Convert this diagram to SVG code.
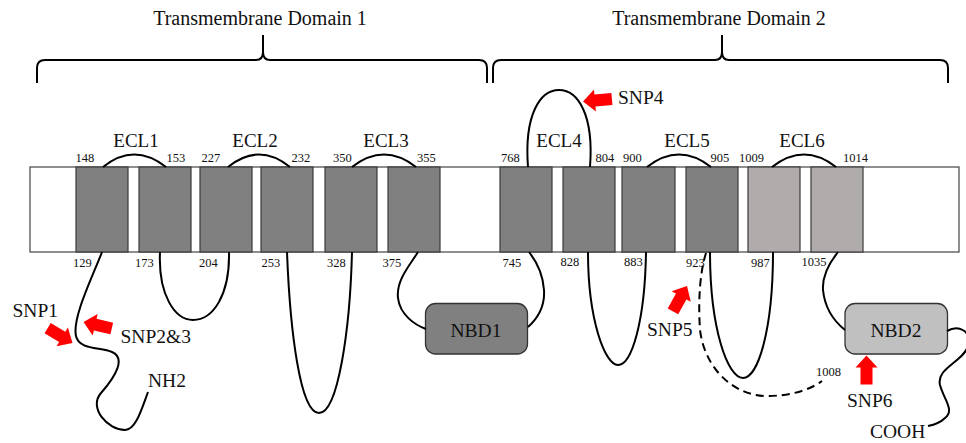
<svg xmlns="http://www.w3.org/2000/svg" width="966" height="443" viewBox="0 0 966 443">
  <style>
    .lbl { font-family: "Liberation Serif", "Times New Roman", serif; fill: #111; }
    .big { font-size: 19.5px; }
    .dom { font-size: 20px; }
    .num { font-size: 12.5px; }
    .ecl { font-size: 19px; text-anchor: middle; }
    .tm { fill: #808080; stroke: #3a3a3a; stroke-width: 1.2; }
    .tm-light { fill: #b0acab; stroke: #3a3a3a; stroke-width: 1.2; }
    .loop { fill: none; stroke: #000; stroke-width: 2; }
    .brace { fill: none; stroke: #000; stroke-width: 2; }
    .snp { fill: #ff0000; }
  </style>
  <defs>
    <!-- block arrow pointing along +x, tip at origin -->
    <path id="snp-arrow" d="M0,0 L-12,-11 L-12,-6 L-29,-6 L-29,6 L-12,6 L-12,11 Z"/>
  </defs>

  <rect width="966" height="443" fill="#fff"/>

  <!-- domain braces -->
  <g id="tmd1">
    <path class="brace" d="M37,83 L37,68 Q37,60 45,60 L256,60 Q263,60 263,52 L263,35 M263,52 Q263,60 270,60 L479,60 Q487,60 487,68 L487,83"/>
    <text class="lbl dom" x="260" y="25" text-anchor="middle">Transmembrane Domain 1</text>
  </g>
  <g id="tmd2">
    <path class="brace" d="M493,83 L493,68 Q493,60 501,60 L715,60 Q722,60 722,52 L722,35 M722,52 Q722,60 729,60 L940,60 Q948,60 948,68 L948,83"/>
    <text class="lbl dom" x="719" y="25" text-anchor="middle">Transmembrane Domain 2</text>
  </g>

  <!-- membrane -->
  <g id="membrane">
    <rect x="30" y="167" width="929" height="85" fill="#fff" stroke="#444" stroke-width="1.2"/>
  </g>

  <!-- transmembrane segments -->
  <g id="tm1"><rect class="tm" x="76" y="167" width="52" height="85"/></g>
  <g id="tm2"><rect class="tm" x="139" y="167" width="52" height="85"/></g>
  <g id="tm3"><rect class="tm" x="200" y="167" width="52" height="85"/></g>
  <g id="tm4"><rect class="tm" x="261" y="167" width="52" height="85"/></g>
  <g id="tm5"><rect class="tm" x="325" y="167" width="52" height="85"/></g>
  <g id="tm6"><rect class="tm" x="388" y="167" width="52" height="85"/></g>
  <g id="tm7"><rect class="tm" x="500" y="167" width="52" height="85"/></g>
  <g id="tm8"><rect class="tm" x="563" y="167" width="52" height="85"/></g>
  <g id="tm9"><rect class="tm" x="622" y="167" width="53" height="85"/></g>
  <g id="tm10"><rect class="tm" x="686" y="167" width="52" height="85"/></g>
  <g id="tm11"><rect class="tm-light" x="748" y="167" width="52" height="85"/></g>
  <g id="tm12"><rect class="tm-light" x="811" y="167" width="52" height="85"/></g>

  <!-- nucleotide binding domains -->
  <g id="nbd1">
    <rect x="425.5" y="303.5" width="102" height="50.5" rx="10" fill="#808080" stroke="#333" stroke-width="1.3"/>
    <text class="lbl big" x="476" y="337" text-anchor="middle">NBD1</text>
  </g>
  <g id="nbd2">
    <rect x="845" y="303.5" width="102.5" height="50.5" rx="10" fill="#c0c0c0" stroke="#333" stroke-width="1.3"/>
    <text class="lbl big" x="896" y="337" text-anchor="middle">NBD2</text>
  </g>

  <!-- connecting loops -->
  <g id="connectors">
    <!-- extracellular loops -->
    <path class="loop" d="M103,167 Q134,142 166,167"/>
    <path class="loop" d="M228,167 Q259,142 290,167"/>
    <path class="loop" d="M352,167 Q384,142 416,167"/>
    <path class="loop" d="M528,167 C524,115 540,90 559,90 C578,90 594,115 590,167"/>
    <path class="loop" d="M647,167 Q679,142 711,167"/>
    <path class="loop" d="M772,167 Q804,142 836,167"/>
    <!-- N-terminal tail -->
    <path class="loop" d="M102,252 C92,278 72,318 76,336 C79,350 100,347 112,352 C126,358 116,376 101,393 C88,408 108,430 125,430 C136,430 142,408 148,392"/>
    <!-- intracellular loops -->
    <path class="loop" d="M160,252 C158,295 175,320 193,320 C213,320 230,295 229,252"/>
    <path class="loop" d="M287,252 C290,330 300,413 319,413 C338,413 350,330 352,252"/>
    <path class="loop" d="M418,252 C410,265 396,280 398,298 C400,315 415,325 426,329"/>
    <path class="loop" d="M528,327 C538,318 545,305 544,290 C543,275 537,262 529,252"/>
    <path class="loop" d="M588,252 C588,320 605,365 618,365 C632,365 645,320 646,252"/>
    <path class="loop" d="M710,252 C710,330 728,378 743,378 C758,378 773,330 773,252"/>
    <path class="loop" stroke-dasharray="8 5" d="M706,253 C700,272 698,300 700,330 C705,370 735,396 767,396 C790,396 810,390 822,381"/>
    <path class="loop" d="M838,252 C830,262 822,275 823,290 C825,310 835,322 845,330"/>
    <!-- C-terminal tail -->
    <path class="loop" d="M947,331 C958,325 972,330 968,346 C963,362 936,368 940,385 C944,400 955,410 945,418 C940,423 933,425 928,426"/>
  </g>

  <!-- loop labels -->
  <g id="ecl-labels">
    <text class="lbl ecl" x="136" y="147">ECL1</text>
    <text class="lbl ecl" x="255" y="147">ECL2</text>
    <text class="lbl ecl" x="386" y="147">ECL3</text>
    <text class="lbl ecl" x="559" y="147">ECL4</text>
    <text class="lbl ecl" x="687" y="147">ECL5</text>
    <text class="lbl ecl" x="802" y="147">ECL6</text>
  </g>

  <!-- residue numbers -->
  <g id="residues" class="lbl num">
    <text x="75.5" y="161.5">148</text>
    <text x="166.5" y="161.5">153</text>
    <text x="201.5" y="161.5">227</text>
    <text x="291.5" y="161.5">232</text>
    <text x="333" y="161.5">350</text>
    <text x="417" y="161.5">355</text>
    <text x="501" y="161.5">768</text>
    <text x="595.5" y="161.5">804</text>
    <text x="623" y="161.5">900</text>
    <text x="710.5" y="161.5">905</text>
    <text x="739" y="161.5">1009</text>
    <text x="843" y="161.5">1014</text>
    <text x="73" y="266.5">129</text>
    <text x="135" y="266.5">173</text>
    <text x="199" y="266.5">204</text>
    <text x="261.5" y="266.5">253</text>
    <text x="327" y="266.5">328</text>
    <text x="382.5" y="266.5">375</text>
    <text x="502.5" y="266.5">745</text>
    <text x="560.5" y="266">828</text>
    <text x="624" y="266">883</text>
    <text x="686" y="266.5">923</text>
    <text x="751" y="266.5">987</text>
    <text x="801.5" y="266">1035</text>
    <text x="816" y="376">1008</text>
  </g>

  <!-- terminals -->
  <g id="termini" class="lbl big">
    <text x="148" y="386.5">NH2</text>
    <text x="870" y="438">COOH</text>
  </g>

  <!-- SNP markers -->
  <g id="snp1">
    <use href="#snp-arrow" class="snp" transform="translate(72.5,343) rotate(31)"/>
    <text class="lbl big" x="12.5" y="316.5">SNP1</text>
  </g>
  <g id="snp2-3">
    <use href="#snp-arrow" class="snp" transform="translate(83.5,322) rotate(-167)"/>
    <text class="lbl big" x="120.5" y="342.5">SNP2&amp;3</text>
  </g>
  <g id="snp4">
    <use href="#snp-arrow" class="snp" transform="translate(583,101.5) rotate(175)"/>
    <text class="lbl big" x="618" y="104">SNP4</text>
  </g>
  <g id="snp5">
    <use href="#snp-arrow" class="snp" transform="translate(687,286) rotate(-61)"/>
    <text class="lbl big" x="647" y="336">SNP5</text>
  </g>
  <g id="snp6">
    <use href="#snp-arrow" class="snp" transform="translate(866.5,355.5) rotate(-90)"/>
    <text class="lbl big" x="847" y="406.5">SNP6</text>
  </g>
</svg>
